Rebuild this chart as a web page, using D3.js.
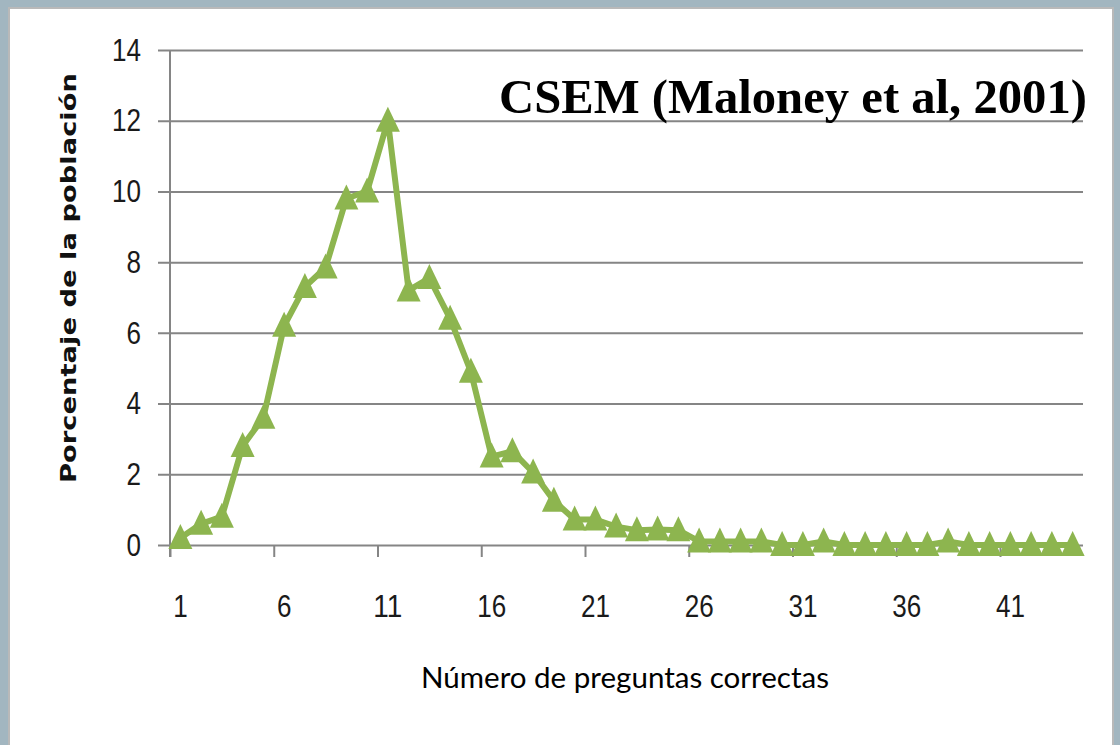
<!DOCTYPE html>
<html>
<head>
<meta charset="utf-8">
<script src="https://cdn.jsdelivr.net/npm/d3@7"></script>
<style>
  body { margin: 0; background: #a2b6c0; }
  svg { display: block; }
</style>
</head>
<body>
<div id="container"></div>
<script>
/* CONSTANTS AND GLOBALS */
const width = 1120,
  height = 745,
  margin = { top: 50, bottom: 200, left: 170, right: 37 };

// number of correct answers (categories on the x axis)
const categories = [1, 2, 3, 4, 5, 6, 7, 8, 9, 10, 11, 12, 13, 14, 15, 16, 17, 18, 19, 20, 21, 22,
  23, 24, 25, 26, 27, 28, 29, 30, 31, 32, 33, 34, 35, 36, 37, 38, 39, 40, 41, 42, 43, 44];

// percentage of the population
const percentages = [0.2, 0.6, 0.8, 2.8, 3.6, 6.2, 7.3, 7.85, 9.8, 10.0, 12.0, 7.2, 7.55, 6.4, 4.9, 2.5,
  2.65, 2.05, 1.25, 0.72, 0.72, 0.52, 0.42, 0.44, 0.42, 0.1, 0.1, 0.1, 0.1, 0.0, 0.0, 0.1, 0.0, 0.0,
  0.0, 0.0, 0.0, 0.1, 0.0, 0.0, 0.0, 0.0, 0.0, 0.0];

const xTickLabels = [1, 6, 11, 16, 21, 26, 31, 36, 41];
const yTicks = [0, 2, 4, 6, 8, 10, 12, 14];

const title = "CSEM (Maloney et al, 2001)";
const xTitle = "Número de preguntas correctas";
const yTitle = "Porcentaje de la población";

const green = "#8db54f";
const gridColor = "#858585";
const digitFont = "'Liberation Sans', Arial, sans-serif";

const data = categories.map((c, i) => ({ n: c, pct: percentages[i] }));

// svg
const svg = d3.select("#container")
  .append("svg")
  .attr("width", width)
  .attr("height", height);

// white slide panel
svg.append("rect")
  .attr("x", 9)
  .attr("y", 8)
  .attr("width", 1104)
  .attr("height", 745)
  .attr("fill", "#ffffff")
  .attr("stroke", "#b9b9b9")
  .attr("stroke-width", 2);

// x scale - band, one slot per category
const xScale = d3.scaleBand()
  .domain(categories)
  .range([margin.left, width - margin.right]);

// edge scale for the tick marks between categories
const xEdge = d3.scaleLinear()
  .domain([0, categories.length])
  .range([margin.left, width - margin.right]);

// y scale - linear, percent
const yScale = d3.scaleLinear()
  .domain([0, 14])
  .range([height - margin.bottom, margin.top]);

const plotW = width - margin.right - margin.left;

// narrow the digits a bit (the original uses a condensed face)
function narrowDigits(sel) {
  sel.attr("font-family", digitFont)
    .attr("font-size", 32)
    .attr("fill", "#1a1a1a")
    .attr("textLength", function () { return this.textContent.length * 14.5; })
    .attr("lengthAdjust", "spacingAndGlyphs");
}

// gridlines + y labels (axis drawn from the right edge, ticks run out past the y axis)
const yAxis = d3.axisLeft(yScale)
  .tickValues(yTicks)
  .tickSize(plotW + 12)
  .tickPadding(17)
  .tickFormat(d3.format("d"));

const yAxisGroup = svg.append("g")
  .attr("transform", `translate(${width - margin.right},0)`)
  .call(yAxis);

yAxisGroup.select(".domain").remove();
yAxisGroup.selectAll(".tick line")
  .attr("stroke", gridColor)
  .attr("stroke-width", 2);
yAxisGroup.selectAll(".tick text").call(narrowDigits);

// x tick marks between categories
const xTickAxis = d3.axisBottom(xEdge)
  .tickValues([0, 5, 10, 15, 20, 25, 30, 35, 40])
  .tickSize(12)
  .tickFormat("");

const xTickGroup = svg.append("g")
  .attr("transform", `translate(0,${height - margin.bottom})`)
  .call(xTickAxis);
xTickGroup.select(".domain").remove();
xTickGroup.selectAll(".tick line")
  .attr("stroke", gridColor)
  .attr("stroke-width", 2);

// x labels centred on categories
const xAxis = d3.axisBottom(xScale)
  .tickValues(xTickLabels)
  .tickSize(0)
  .tickPadding(49);

const xAxisGroup = svg.append("g")
  .attr("transform", `translate(0,${height - margin.bottom})`)
  .call(xAxis);
xAxisGroup.select(".domain").remove();
xAxisGroup.selectAll(".tick text").call(narrowDigits);

// y axis line
svg.append("line")
  .attr("x1", margin.left)
  .attr("x2", margin.left)
  .attr("y1", yScale(14))
  .attr("y2", yScale(0) + 12)
  .attr("stroke", gridColor)
  .attr("stroke-width", 2);

// axis titles
svg.append("text")
  .attr("x", 625)
  .attr("y", 688)
  .attr("text-anchor", "middle")
  .attr("font-family", "Lato, 'Open Sans', sans-serif")
  .attr("font-size", 28)
  .attr("textLength", 408)
  .attr("lengthAdjust", "spacingAndGlyphs")
  .attr("fill", "#000")
  .text(xTitle);

svg.append("text")
  .attr("transform", "translate(76,278) rotate(-90)")
  .attr("text-anchor", "middle")
  .attr("font-family", "'DejaVu Sans', Verdana, sans-serif")
  .attr("font-weight", "bold")
  .attr("font-size", 22)
  .attr("textLength", 410)
  .attr("lengthAdjust", "spacingAndGlyphs")
  .attr("fill", "#111")
  .text(yTitle);

// LINE GENERATOR FUNCTION
const lineGen = d3.line()
  .x(d => xScale(d.n) + xScale.bandwidth() / 2)
  .y(d => yScale(d.pct));

svg.selectAll(".line")
  .data([data])
  .join("path")
  .attr("class", "line")
  .attr("fill", "none")
  .attr("stroke", green)
  .attr("stroke-width", 6)
  .attr("stroke-linejoin", "round")
  .attr("d", d => lineGen(d));

// triangle markers
svg.selectAll(".marker")
  .data(data)
  .join("path")
  .attr("class", "marker")
  .attr("transform", d => `translate(${xScale(d.n) + xScale.bandwidth() / 2},${yScale(d.pct)})`)
  .attr("d", "M0,-14L12,11L-12,11Z")
  .attr("fill", green);

// chart title
svg.append("text")
  .attr("x", 1087)
  .attr("y", 113)
  .attr("text-anchor", "end")
  .attr("font-family", "'Liberation Serif', 'DejaVu Serif', serif")
  .attr("font-weight", "bold")
  .attr("font-size", 48)
  .attr("textLength", 588)
  .attr("lengthAdjust", "spacingAndGlyphs")
  .attr("fill", "#000")
  .text(title);
</script>
</body>
</html>
